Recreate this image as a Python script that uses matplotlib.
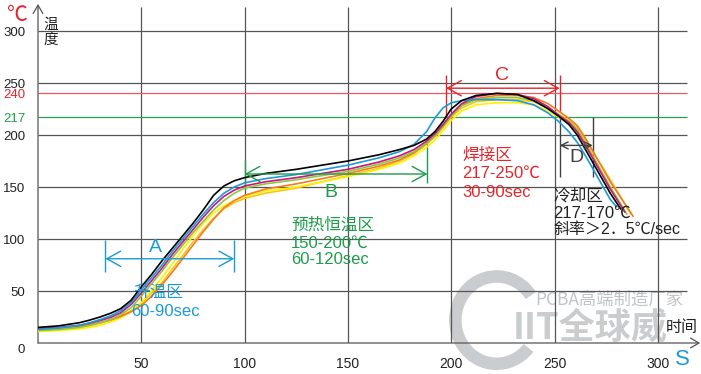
import numpy as np
import matplotlib
matplotlib.use("Agg")
import matplotlib.pyplot as plt
from matplotlib.patches import Arc

plt.rcParams['font.family'] = ['Liberation Sans', 'Noto Sans CJK SC', 'DejaVu Sans']

# reflow profile curves (seconds, degC)
t_common = [0, 10, 20, 25, 30, 35, 40, 45, 50, 55, 60, 65, 70, 75, 80, 85, 90, 95, 100,
            110, 125, 150, 165, 175, 182, 188, 192, 196, 200, 205, 212, 222, 232, 240,
            247, 252, 257, 261, 265, 269, 273, 277]

black = [15, 16.5, 19.5, 22, 25, 28.5, 33, 41, 54, 66, 79, 91, 103, 115, 128, 142, 151, 156, 159,
         163, 167, 175, 181, 186, 190, 196, 203, 213, 225, 233, 238, 240, 239, 233,
         225, 218, 210, 200, 186, 172, 158, 144]
blue = [13, 14.5, 17, 19.5, 22.5, 26, 31, 39, 51, 63, 75, 88, 100, 112, 124, 135, 144, 150, 154,
        158, 162, 171, 178, 184, 191, 203, 216, 226, 231, 233, 234, 234, 233, 229,
        221, 213, 203, 193, 180, 166, 152, 138]
magenta = [14, 15, 17, 19, 21.5, 24.5, 29, 37, 48, 60, 72, 85, 97, 109, 121, 132, 141, 147, 151,
           155, 159, 167, 174, 180, 186, 194, 201, 210, 220, 230, 237, 240, 239, 235,
           227, 219, 212, 203, 190, 176, 162, 148]
green = [12, 13, 15, 17, 19.5, 22.5, 27, 34, 45, 57, 69, 82, 94, 106, 117, 128, 137, 144, 149,
         153, 157, 165, 172, 178, 184, 192, 199, 208, 218, 228, 234, 236, 236, 233,
         226, 219, 213, 205, 192, 178, 164, 150]
yellow = [11, 12, 13.5, 15, 17, 20, 24, 30, 39, 50, 63, 76, 90, 103, 115, 125, 132, 137, 141,
          146, 150, 160, 167, 173, 180, 188, 195, 204, 214, 223, 229, 231, 231, 229,
          223, 217, 212, 204, 192, 178, 164, 150]
gold = [12, 13, 15, 16.5, 19, 22, 26, 31, 38, 48, 58, 71, 84, 97, 109, 120, 129, 135, 139,
        144, 149, 161, 168, 175, 182, 191, 198, 207, 217, 226, 232, 234, 234, 232,
        226, 220, 214, 207, 195, 182, 170, 157]
orange = [13, 14, 16, 17.5, 19.5, 22, 25.5, 30, 36, 45, 56, 68, 81, 94, 107, 119, 130, 137, 142,
          148, 153, 163, 170, 176, 183, 192, 199, 209, 219, 229, 235, 238, 238, 236,
          230, 223, 216, 209, 197, 183, 169, 155]

# last point of each curve (end of cooling)
end_t = [282, 280, 284, 285, 284, 287, 288]
end_T = [129, 131, 126, 124, 126, 124, 122]

curve_colors = ['#000000', '#1e9ad6', '#c8177f', '#8dc63f', '#fff000', '#f5c518', '#f07d22']
curve_vals = [black, blue, magenta, green, yellow, gold, orange]
draw_order = [5, 4, 6, 3, 2, 1, 0]

y_ticks = [50, 100, 150, 200, 217, 240, 250, 300]
x_ticks = [50, 100, 150, 200, 250, 300]

RED = '#e3262c'
GRN = '#1e9b4b'
BLU = '#1a9bd7'
GRY = '#404040'
CJK = ['Noto Sans CJK SC']

fig = plt.figure(figsize=(7.01, 3.74), dpi=100)
ax = fig.add_axes([38 / 701, 31 / 374, 663 / 701, 343 / 374])
ax.set_xlim(0, 663 / 2.066)
ax.set_ylim(0, 343 / 1.04)
for s in ax.spines.values():
    s.set_visible(False)

# grid
ax.hlines([50, 100, 150, 200, 250, 300], 0, 314, color='#555555', lw=0.9, zorder=1)
ax.vlines(x_ticks, 0, 323, color='#555555', lw=0.9, zorder=1)
ax.hlines(240, 0, 314, color='#ee5a5e', lw=0.9, zorder=1)
ax.hlines(217, 0, 314, color='#2aa050', lw=0.9, zorder=1)

# axes with arrows
ax.annotate('', xy=(0, 326), xytext=(0, 0), annotation_clip=False,
            arrowprops=dict(arrowstyle='->,head_length=0.6,head_width=0.35', color='#555555',
                            lw=0.9, shrinkA=0, shrinkB=0))
ax.annotate('', xy=(320.5, 0), xytext=(0, 0), annotation_clip=False,
            arrowprops=dict(arrowstyle='->,head_length=0.6,head_width=0.35', color='#555555',
                            lw=0.9, shrinkA=0, shrinkB=0))

# watermark
ax.add_patch(Arc((222, 22), 40, 84, theta1=55, theta2=300, color='#c9cdcf', lw=9,
                 zorder=0.5, clip_on=False))
ax.text(240.5, 42, 'PCBA高端制造厂家', fontsize=12.5, color='#c0c5c8', zorder=0.5,
        va='center', family=CJK)
ax.text(230, 14, 'IIT全球威', fontsize=26, fontweight='bold', color='#c9cdcf', zorder=0.5,
        va='center', family=CJK)

# curves
for i in draw_order:
    ax.plot(t_common + [end_t[i]], curve_vals[i] + [end_T[i]], color=curve_colors[i],
            lw=1.2, zorder=3)

# ticks
ax.set_xticks(x_ticks)
ax.set_yticks(y_ticks)
ax.tick_params(length=0, labelsize=10, colors='#222222')
ax.tick_params(axis='x', pad=10)
ax.tick_params(axis='y', pad=9, labelsize=9.5)
for lab, v in zip(ax.get_yticklabels(), y_ticks):
    if v == 240:
        lab.set_color(RED)
    elif v == 217:
        lab.set_color(GRN)
ax.text(-6.2, -7, '0', fontsize=9.5, ha='right', va='center', color='#222222', clip_on=False)

ax.text(-10, 315, '℃', color=RED, fontsize=15, ha='center', va='center', clip_on=False)
ax.text(2.5, 313, '温\n度', fontsize=10.5, va='top', linespacing=1.1,
        family=CJK, color='#222222')
ax.text(312, -16, 'S', color=BLU, fontsize=16, ha='center', va='center', clip_on=False)
ax.text(319.5, 15, '时间', fontsize=11.5, ha='right', va='center', color='#222222',
        family=CJK, zorder=4)

arr = dict(arrowstyle='<->,head_length=1.0,head_width=0.55', lw=1.0, shrinkA=0, shrinkB=0)

# A: ramp
ax.annotate('', xy=(32.6, 81), xytext=(95, 81), arrowprops=dict(arr, color=BLU))
ax.vlines([32.6, 95], 68, 99, color=BLU, lw=1.0)
ax.text(57, 92, 'A', color=BLU, fontsize=14, ha='center', va='center')
ax.text(46, 49, '升温区', color=BLU, fontsize=12, va='center', family=CJK)
ax.text(45, 30, '60-90sec', color=BLU, fontsize=12, va='center')

# B: soak
ax.annotate('', xy=(100, 162.5), xytext=(188.5, 162.5), arrowprops=dict(arr, color=GRN))
ax.vlines(100, 147, 176, color=GRN, lw=1.0)
ax.vlines(188.5, 154, 193, color=GRN, lw=1.0)
ax.text(142, 145, 'B', color=GRN, fontsize=14, ha='center', va='center')
ax.text(122.5, 113, '预热恒温区', color=GRN, fontsize=12, va='center', family=CJK)
ax.text(122.5, 96, '150-200℃', color=GRN, fontsize=12, va='center')
ax.text(122.5, 80, '60-120sec', color=GRN, fontsize=12, va='center')

# C: reflow
ax.annotate('', xy=(197.5, 245), xytext=(252.5, 245), arrowprops=dict(arr, color=RED))
ax.vlines(197.5, 217, 258, color=RED, lw=1.0)
ax.vlines(252.5, 223, 258, color=RED, lw=1.0)
ax.text(224.5, 257, 'C', color=RED, fontsize=14, ha='center', va='center')
ax.text(205.5, 180, '焊接区', color=RED, fontsize=12, va='center', family=CJK)
ax.text(205.5, 163, '217-250℃', color=RED, fontsize=12, va='center')
ax.text(205.5, 145, '30-90sec', color=RED, fontsize=12, va='center')

# D: cooling
ax.annotate('', xy=(252.5, 190), xytext=(268.5, 190),
            arrowprops=dict(arrowstyle='<->,head_length=0.5,head_width=0.25', lw=1.0,
                            shrinkA=0, shrinkB=0, color=GRY))
ax.vlines([252.5, 268.5], 160, 217, color=GRY, lw=1.0)
ax.text(260.5, 178, 'D', color=GRY, fontsize=14, ha='center', va='center')
ax.text(249.5, 141, '冷却区', color='#222222', fontsize=12, va='center', family=CJK)
ax.text(249.5, 125, '217-170℃', color='#222222', fontsize=12, va='center')
ax.text(249.5, 109, '斜率＞2．5℃/sec', color='#222222', fontsize=11.5, va='center')

fig.savefig('out.png', dpi=100)
